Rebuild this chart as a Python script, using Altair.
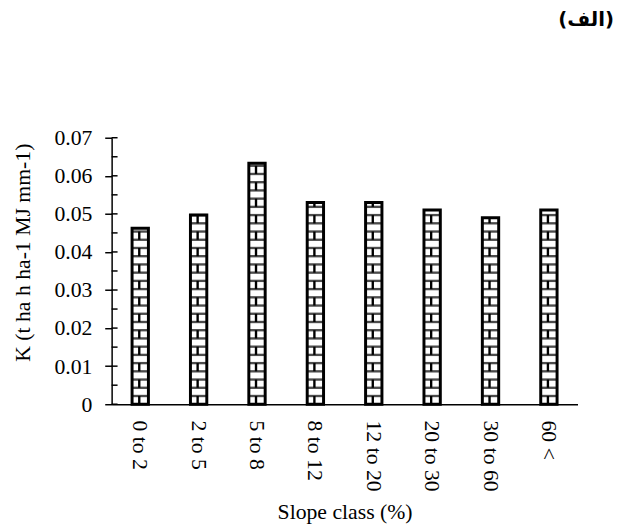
import math
import altair as alt
import pandas as pd

# ---- data ----
categories = ["0 to 2", "2 to 5", "5 to 8", "8 to 12", "12 to 20", "20 to 30", "30 to 60", "60 <"]
k_values = [0.0462, 0.0497, 0.0633, 0.0530, 0.0530, 0.0510, 0.0490, 0.0510]
y_tick_values = [0, 0.01, 0.02, 0.03, 0.04, 0.05, 0.06, 0.07]
y_minor_values = [i * 0.005 for i in range(15)]
title_text = "(الف)"
x_title = "Slope class (%)"
y_title = "K (t ha h ha-1 MJ mm-1)"

# brick fill pattern (decoration only), rows of fixed height in data units
brick_row = 0.00216

bars = pd.DataFrame({"cat": categories, "val": k_values})

h_rows, v_rows = [], []
for c, v in zip(categories, k_values):
    n = int(math.ceil(v / brick_row))
    for k in range(n):
        y0 = k * brick_row
        y1 = min((k + 1) * brick_row, v)
        if k > 0:
            h_rows.append({"cat": c, "val": y0})
        if k % 2 == 0:
            v_rows.append({"cat": c, "val": y0, "val2": y1})
h_df = pd.DataFrame(h_rows)
v_df = pd.DataFrame(v_rows)
minor_df = pd.DataFrame({"val": y_minor_values})

FONT = "Liberation Serif"
FS = 22

x_scale = alt.Scale(domain=categories, paddingInner=0.72, paddingOuter=0.35)
y_scale = alt.Scale(domain=[0, 0.07], nice=False, zero=True)

x_axis = alt.Axis(title=x_title, labelAngle=90, ticks=False, labelPadding=16,
                  labelOverlap=False, titlePadding=11, grid=False)
y_axis = alt.Axis(title=y_title, values=y_tick_values, format=".2~f", labelOverlap=False,
                  tickSize=7, labelPadding=13, titlePadding=20, titleY=116, grid=False)

x_enc = alt.X("cat:N", scale=x_scale, sort=categories, axis=x_axis)
y_enc = alt.Y("val:Q", scale=y_scale, axis=y_axis)

base_fill = alt.Chart(bars).mark_bar(fill="white", strokeWidth=0).encode(x=x_enc, y=y_enc)

h_lines = alt.Chart(h_df).mark_tick(
    orient="horizontal", size=16.4, thickness=2.4, color="black"
).encode(x=x_enc, y=y_enc)

v_lines = alt.Chart(v_df).mark_rule(strokeWidth=2.4, color="black", xOffset=-1).encode(
    x=x_enc, y=y_enc, y2="val2:Q",
)

outline = alt.Chart(bars).mark_bar(
    fill="transparent", stroke="black", strokeWidth=3
).encode(x=x_enc, y=y_enc)

inner_ticks = alt.Chart(minor_df).mark_rule(color="black", strokeWidth=1.5).encode(
    y=y_enc,
    x=alt.value(0),
    x2=alt.value(6),
)

chart = alt.layer(base_fill, h_lines, v_lines, outline, inner_ticks).properties(
    width=472,
    height=270,
    background="white",
    autosize=alt.AutoSizeParams(type="none"),
    padding={"left": 105, "top": 128, "right": 39, "bottom": 125},
    title=alt.TitleParams(
        title_text, anchor="end", frame="group", font="DejaVu Sans", fontSize=20,
        fontWeight="bold", color="black", offset=98, dx=37,
    ),
).configure_view(stroke=None).configure_axis(
    labelFont=FONT, labelFontSize=FS, labelColor="black",
    titleFont=FONT, titleFontSize=FS, titleFontWeight="normal", titleColor="black",
    domainColor="black", domainWidth=1.5, tickColor="black", tickWidth=1.5,
)

chart.save("out.html", embed_options={"renderer": "svg", "actions": False})
